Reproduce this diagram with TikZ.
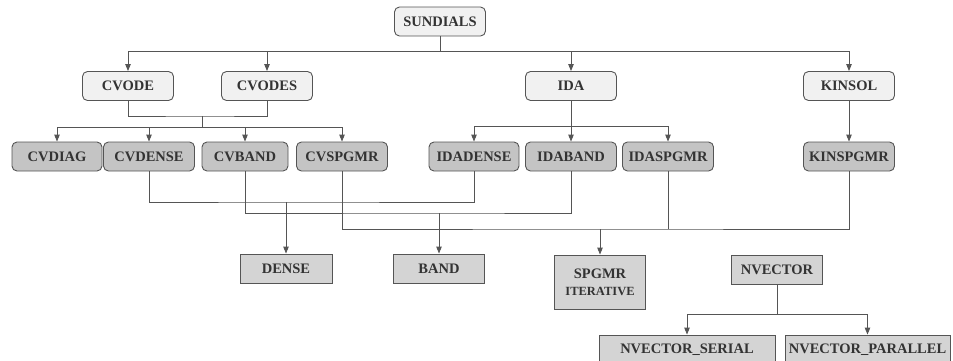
\documentclass[tikz,border=0pt]{standalone}
\usepackage{fontspec}
\setmainfont{Liberation Serif}
\usetikzlibrary{arrows.meta}
\definecolor{lncol}{HTML}{555555}
\definecolor{txtcol}{HTML}{333333}
\definecolor{topfill}{HTML}{F1F1F1}
\definecolor{midfill}{HTML}{C4C4C4}
\definecolor{botfill}{HTML}{D4D4D4}
\begin{document}
\begin{tikzpicture}[x=1pt,y=-1pt,
  box/.style={draw=lncol,line width=0.9pt,minimum height=29pt,minimum width=91pt,inner sep=0pt,
    text=txtcol,font=\fontsize{14.5}{16}\selectfont\bfseries},
  topbox/.style={box,fill=topfill,rounded corners=5pt},
  midbox/.style={box,fill=midfill,rounded corners=5pt},
  botbox/.style={box,fill=botfill},
  ln/.style={draw=lncol,line width=0.9pt},
  arr/.style={ln,-{Triangle[length=7pt,width=5.5pt]}}]
\useasboundingbox (0,0) rectangle (953,360);
\begin{scope}
\clip (0,0) rectangle (953,360);
% top
\node[topbox] (sun) at (440,21.5) {SUNDIALS};
\node[topbox] (cvode) at (128,86) {CVODE};
\node[topbox] (cvodes) at (267,86) {CVODES};
\node[topbox] (ida) at (571,86) {IDA};
\node[topbox] (kinsol) at (849,86) {KINSOL};
% second row
\node[midbox,minimum width=90pt] (cvdiag) at (57,156.5) {CVDIAG};
\node[midbox] (cvdense) at (149,156.5) {CVDENSE};
\node[midbox,minimum width=86pt] (cvband) at (245,156.5) {CVBAND};
\node[midbox] (cvspgmr) at (342,156.5) {CVSPGMR};
\node[midbox,minimum width=90pt] (idadense) at (474,156.5) {IDADENSE};
\node[midbox] (idaband) at (571,156.5) {IDABAND};
\node[midbox] (idaspgmr) at (668,156.5) {IDASPGMR};
\node[midbox] (kinspgmr) at (849,156.5) {KINSPGMR};
% bottom
\node[botbox,minimum width=92pt] (dense) at (286,268.5) {DENSE};
\node[botbox] (band) at (439,268.5) {BAND};
\node[botbox,minimum height=54pt,align=center] (spgmr) at (600,282)
  {SPGMR\\[1pt]{\fontsize{12.5}{14}\selectfont ITERATIVE}};
\node[botbox] (nvector) at (777,269.5) {NVECTOR};
\node[botbox,minimum width=176pt] (nvser) at (687,349.5) {NVECTOR\_SERIAL};
\node[botbox,minimum width=165pt] (nvpar) at (867.5,349.5) {NVECTOR\_PARALLEL};
% connectors top
\coordinate (b1) at (440,51);
\draw[ln] (sun) -- (b1);
\draw[arr] (b1) -| (cvode);
\draw[arr] (b1) -| (cvodes);
\draw[arr] (b1) -| (ida);
\draw[arr] (b1) -| (kinsol);
% CVODE/CVODES join
\coordinate (cj) at (202,116);
\coordinate (cb) at (202,127);
\draw[ln] (cvode) |- (cj) -| (cvodes);
\draw[ln] (cj) -- (cb);
\draw[arr] (cb) -| (cvdiag);
\draw[arr] (cb) -| (cvdense);
\draw[arr] (cb) -| (cvband);
\draw[arr] (cb) -| (cvspgmr);
% IDA
\coordinate (ib) at (571,126);
\draw[arr] (ida) -- (idaband);
\draw[arr] (ib) -| (idadense);
\draw[arr] (ib) -| (idaspgmr);
% KINSOL
\draw[arr] (kinsol) -- (kinspgmr);
% to DENSE
\coordinate (d1) at (286,202);
\draw[ln] (cvdense) |- (d1) -| (idadense);
\draw[arr] (d1) -- (dense);
% to BAND
\coordinate (d2) at (439,213);
\draw[ln] (cvband) |- (d2) -| (idaband);
\draw[arr] (d2) -- (band);
% to SPGMR
\coordinate (d3) at (600,229);
\coordinate (d3r) at (668,229);
\draw[ln] (cvspgmr) |- (d3) -| (kinspgmr);
\draw[ln] (idaspgmr) -- (d3r);
\draw[arr] (d3) -- (spgmr);
% NVECTOR
\coordinate (nb) at (777,314);
\draw[ln] (nvector) -- (nb);
\draw[arr] (nb) -| (nvser);
\draw[arr] (nb) -| (nvpar);
\end{scope}
\end{tikzpicture}
\end{document}
